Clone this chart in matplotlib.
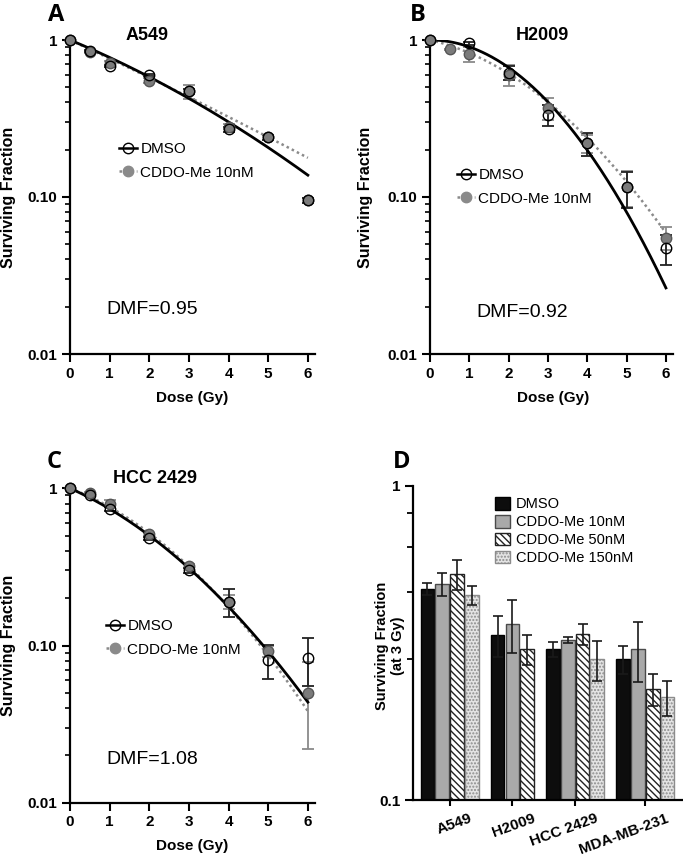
import numpy as np
import matplotlib
matplotlib.use('Agg')
import matplotlib.pyplot as plt
from matplotlib.lines import Line2D
from matplotlib.ticker import FixedLocator, NullFormatter, LogLocator
from matplotlib.transforms import ScaledTranslation

plt.rcParams['font.family'] = ['Liberation Sans', 'DejaVu Sans']
plt.rcParams['hatch.linewidth'] = 1.0

# clonogenic survival, panels A-C
dose = [0, 0.5, 1, 2, 3, 4, 5, 6]
dose_h2009_dmso = [0, 1, 2, 3, 4, 5, 6]

a549_dmso = [1, 0.85, 0.68, 0.60, 0.47, 0.27, 0.24, 0.095]
a549_dmso_err = [0, 0.01, 0.01, 0.01, 0.02, 0.01, 0.01, 0.004]
a549_cddo = [1, 0.84, 0.71, 0.55, 0.47, 0.28, 0.24, 0.095]
a549_cddo_err = [0, 0.01, 0.02, 0.02, 0.05, 0.01, 0.01, 0.004]

h2009_dmso = [1, 0.95, 0.62, 0.335, 0.22, 0.115, 0.047]
h2009_dmso_err = [0, 0.02, 0.06, 0.05, 0.037, 0.03, 0.01]
h2009_cddo = [1, 0.87, 0.81, 0.60, 0.37, 0.22, 0.116, 0.055]
h2009_cddo_err = [0, 0.01, 0.09, 0.09, 0.06, 0.03, 0.03, 0.009]

hcc_dmso = [1, 0.90, 0.74, 0.48, 0.30, 0.19, 0.081, 0.083]
hcc_dmso_err = [0, 0.01, 0.02, 0.01, 0.01, 0.038, 0.02, 0.028]
hcc_cddo = [1, 0.94, 0.80, 0.51, 0.32, 0.19, 0.092, 0.05]
hcc_cddo_err = [0, 0.01, 0.04, 0.01, 0.01, 0.02, 0.008, 0.028]

# linear-quadratic fit parameters (alpha, beta)
a549_fit_dmso = (0.241, 0.0149)
a549_fit_cddo = (0.27, 0.003)
h2009_fit_dmso = (0.0, 0.101)
h2009_fit_cddo = (0.134, 0.0563)
hcc_fit_dmso = (0.258, 0.044)
hcc_fit_cddo = (0.22, 0.054)

# panel D: surviving fraction at 3 Gy
cell_lines = ['A549', 'H2009', 'HCC 2429', 'MDA-MB-231']
treatments = ['DMSO', 'CDDO-Me 10nM', 'CDDO-Me 50nM', 'CDDO-Me 150nM']
sf3_dmso = [0.47, 0.335, 0.302, 0.281]
sf3_dmso_err = [0.02, 0.05, 0.016, 0.029]
sf3_10nm = [0.486, 0.364, 0.323, 0.303]
sf3_10nm_err = [0.04, 0.07, 0.007, 0.065]
sf3_50nm = [0.523, 0.302, 0.337, 0.225]
sf3_50nm_err = [0.056, 0.034, 0.025, 0.026]
sf3_150nm = [0.448, np.nan, 0.28, 0.212]
sf3_150nm_err = [0.032, np.nan, 0.041, 0.027]

W, H = 683, 855
fig = plt.figure(figsize=(W / 100, H / 100), dpi=100)


def fig_axes(left, right, top, bottom):
    return fig.add_axes([left / W, 1 - bottom / H, (right - left) / W, (bottom - top) / H])


def style_axes(ax):
    for s in ['top', 'right']:
        ax.spines[s].set_visible(False)
    for s in ['left', 'bottom']:
        ax.spines[s].set_linewidth(1.6)
    ax.tick_params(which='major', length=6, width=1.5, labelsize=11, pad=3)
    ax.tick_params(which='minor', length=3.5, width=1.2)
    for lab in ax.get_xticklabels() + ax.get_yticklabels():
        lab.set_fontweight('bold')


def survival_panel(ax, d_dmso, sf_dmso, err_dmso, d_cddo, sf_cddo, err_cddo,
                   fit_dmso, fit_cddo, title, title_x, title_y, dmf, dmf_xy, leg_xy):
    ax.set_yscale('log')
    ax.errorbar(d_cddo, sf_cddo, yerr=err_cddo, fmt='none', ecolor='#8a8a8a',
                elinewidth=1.3, capsize=4, capthick=1.3, zorder=2, clip_on=False)
    ax.errorbar(d_dmso, sf_dmso, yerr=err_dmso, fmt='none', ecolor='#222222',
                elinewidth=1.3, capsize=4, capthick=1.3, zorder=2, clip_on=False)
    dd = np.linspace(0, 6, 200)
    a, b = fit_cddo
    ax.plot(dd, np.exp(-a * dd - b * dd ** 2), color='#8a8a8a', lw=1.8,
            linestyle=(0, (1, 1.3)), zorder=3)
    a, b = fit_dmso
    ax.plot(dd, np.exp(-a * dd - b * dd ** 2), color='black', lw=2.0, zorder=3)
    ax.plot(d_cddo, sf_cddo, 'o', ms=7.5, mfc='#7b7b7b', mec='#555555', mew=1.0,
            zorder=4, clip_on=False)
    ax.plot(d_dmso, sf_dmso, 'o', ms=7.5, mfc='none', mec='black', mew=1.0,
            zorder=5, clip_on=False)
    ax.set_xlim(0, 6.18)
    ax.set_ylim(0.01, 1)
    ax.set_xticks(range(7))
    ax.set_yticks([0.01, 0.1, 1])
    ax.set_yticklabels(['0.01', '0.10', '1'])
    ax.yaxis.set_minor_locator(LogLocator(subs=np.arange(2, 10)))
    ax.yaxis.set_minor_formatter(NullFormatter())
    style_axes(ax)
    ax.set_xlabel('Dose (Gy)', fontsize=11, fontweight='bold')
    ax.set_ylabel('Surviving Fraction', fontsize=11.5, fontweight='bold')
    ax.text(title_x, title_y, title, transform=ax.transAxes, ha='center',
            va='baseline', fontsize=13, fontweight='bold')
    fig.text(dmf_xy[0] / W, 1 - dmf_xy[1] / H, dmf, ha='center', va='center', fontsize=14)
    handles = [Line2D([], [], color='black', lw=1.8, marker='o', ms=7.5, mfc='none', mec='black'),
               Line2D([], [], color='#8a8a8a', lw=1.8, linestyle=(0, (1, 1.3)), marker='o',
                      ms=7.5, mfc='#8a8a8a', mec='#8a8a8a')]
    ax.legend(handles, ['DMSO', 'CDDO-Me 10nM'], loc='center left',
              bbox_to_anchor=(leg_xy[0] / W, 1 - leg_xy[1] / H), bbox_transform=fig.transFigure,
              frameon=False, fontsize=11, handlelength=1.15, handletextpad=0.25,
              labelspacing=0.6, borderpad=0, borderaxespad=0)


axA = fig_axes(70, 315, 40, 354)
survival_panel(axA, dose, a549_dmso, a549_dmso_err, dose, a549_cddo, a549_cddo_err,
               a549_fit_dmso, a549_fit_cddo, 'A549', 0.314, 1.0, 'DMF=0.95', (152, 310), (119, 161))
axA.yaxis.set_label_coords(-0.222, 0.5)
axA.xaxis.set_label_coords(0.5, -0.118)

axB = fig_axes(430, 673, 40, 354)
survival_panel(axB, dose_h2009_dmso, h2009_dmso, h2009_dmso_err, dose, h2009_cddo, h2009_cddo_err,
               h2009_fit_dmso, h2009_fit_cddo, 'H2009', 0.463, 1.0, 'DMF=0.92', (522, 312), (457, 187))
axB.yaxis.set_label_coords(-0.233, 0.5)
axB.xaxis.set_label_coords(0.506, -0.118)

axC = fig_axes(70, 315, 488.3, 802.7)
survival_panel(axC, dose, hcc_dmso, hcc_dmso_err, dose, hcc_cddo, hcc_cddo_err,
               hcc_fit_dmso, hcc_fit_cddo, 'HCC 2429', 0.347, 1.016, 'DMF=1.08', (152, 760), (106, 638))
axC.yaxis.set_label_coords(-0.222, 0.5)
axC.xaxis.set_label_coords(0.5, -0.115)

# panel D
axD = fig_axes(412.7, 683, 485.7, 800)
axD.set_yscale('log')
series = [sf3_dmso, sf3_10nm, sf3_50nm, sf3_150nm]
series_err = [sf3_dmso_err, sf3_10nm_err, sf3_50nm_err, sf3_150nm_err]
bar_style = [dict(color='#0d0d0d', edgecolor='#000000'),
             dict(color='#a9a9a9', edgecolor='#4a4a4a'),
             dict(color='white', edgecolor='#222222', hatch='\\\\\\\\\\'),
             dict(color='#e4e4e4', edgecolor='#8c8c8c', hatch='.....')]
group_gap = 0.75
pos = 0.0
group_centers = []
bar_pos = [[] for _ in treatments]
for g in range(len(cell_lines)):
    start = pos
    for t in range(len(treatments)):
        if not np.isnan(series[t][g]):
            bar_pos[t].append((pos, series[t][g], series_err[t][g]))
            pos += 1
    group_centers.append((start + pos - 1) / 2)
    pos += group_gap

bars = []
for t in range(len(treatments)):
    xs = [p[0] for p in bar_pos[t]]
    vs = [p[1] for p in bar_pos[t]]
    es = [p[2] for p in bar_pos[t]]
    b = axD.bar(xs, [v - 0.1 for v in vs], bottom=0.1, width=0.93, linewidth=1.0,
                label=treatments[t], zorder=2, **bar_style[t])
    bars.append(b)
    axD.errorbar(xs, vs, yerr=es, fmt='none', ecolor='#1a1a1a', elinewidth=1.2,
                 capsize=3.5, capthick=1.2, zorder=3)

axD.set_xlim(-1.0, pos - group_gap - 0.5 + 0.55)
axD.set_ylim(0.1, 1)
axD.set_yticks([0.1, 1])
axD.set_yticklabels(['0.1', '1'])
axD.yaxis.set_minor_locator(FixedLocator(np.linspace(0.1, 1, 6)[1:-1]))
axD.yaxis.set_minor_formatter(NullFormatter())
axD.set_xticks(group_centers)
axD.set_xticklabels(cell_lines, rotation=20, ha='right', va='top', rotation_mode='anchor')
style_axes(axD)
axD.tick_params(axis='x', which='major', length=4, pad=4)
axD.tick_params(axis='y', which='minor', length=4.5, width=1.3)
shift = ScaledTranslation(0.2, 0, fig.dpi_scale_trans)
for lab in axD.get_xticklabels():
    lab.set_transform(lab.get_transform() + shift)
axD.set_ylabel('Surviving Fraction\n(at 3 Gy)', fontsize=10.5, fontweight='bold', linespacing=1.1)
axD.yaxis.set_label_coords(-0.03, 0.49)
axD.legend(loc='upper left', bbox_to_anchor=(495 / W, 1 - 497 / H), bbox_transform=fig.transFigure,
           frameon=False, fontsize=10.5, handlelength=1.05, handleheight=0.95, handletextpad=0.4,
           labelspacing=0.25, borderpad=0, borderaxespad=0)

# panel letters
for letter, x, y in [('A', 48, 3), ('B', 410, 3), ('C', 47, 450), ('D', 393, 450)]:
    fig.text(x / W, 1 - y / H, letter, ha='left', va='top', fontsize=17,
             fontweight='bold', family=['Open Sans', 'DejaVu Sans'])

fig.savefig('out.png', dpi=100)
